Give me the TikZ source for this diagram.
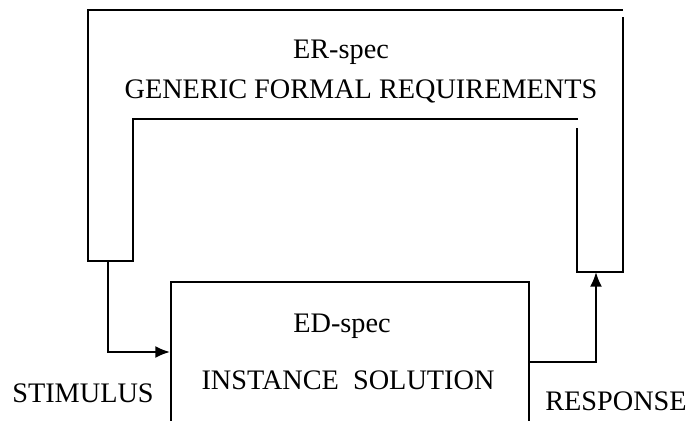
\documentclass[tikz,border=0pt]{standalone}
\usepackage{fontspec}
\setmainfont{Liberation Serif}
\usetikzlibrary{arrows.meta}

\begin{document}
\begin{tikzpicture}[x=0.75pt, y=-0.75pt, line join=miter,
    wall/.style={line width=1.5pt},
    lbl/.style={font=\fontsize{21.2}{25}\selectfont, inner sep=0pt, anchor=base},
    ar/.style={-{Latex[length=11pt, width=9pt]}, line width=1.5pt}]
  \useasboundingbox (0,0) rectangle (689,421);
  % generic requirements frame
  \draw[wall] (623,10) -- (88,10) -- (88,261) -- (133,261) -- (133,119) -- (578,119);
  \draw[wall] (577,128) -- (577,272) -- (623,272) -- (623,17);
  \coordinate (stimout) at (108,261);
  \coordinate (respin) at (596,272);
  % instance solution box, cut by the lower edge
  \node[draw, line width=1.5pt, minimum width=268.5pt, minimum height=111pt, inner sep=0pt] (inst) at (350,356) {};
  \draw[ar] (stimout) |- ([yshift=3pt]inst.west);
  \draw[ar] ([yshift=-4.5pt]inst.east) -| (respin);
  % labels
  \node[lbl] (erspec)   at (341,58)  {ER-spec};
  \node[lbl] (generic)  at (361,98)  {GENERIC FORMAL REQUIREMENTS};
  \node[lbl] (edspec)   at (342,332) {ED-spec};
  \node[lbl] (solution) at (348,389) {INSTANCE\ \ SOLUTION};
  \node[lbl] (stim)     at (83,402)  {STIMULUS};
  \node[lbl] (resp)     at (616,410) {RESPONSE};
\end{tikzpicture}
\end{document}
